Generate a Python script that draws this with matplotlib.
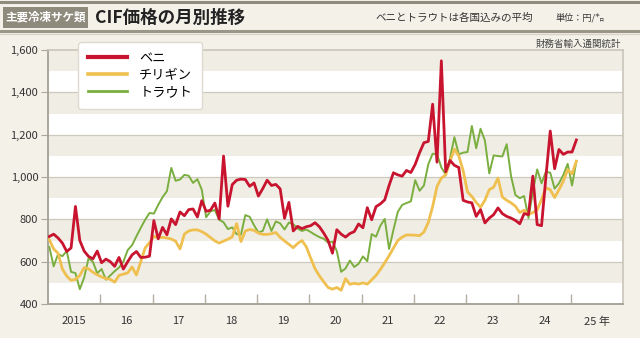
import matplotlib
matplotlib.use("Agg")
import matplotlib.pyplot as plt
from matplotlib.patches import Rectangle
from matplotlib.lines import Line2D
import numpy as np

plt.rcParams['font.family'] = ['Noto Sans CJK JP', 'DejaVu Sans']

start_year = 2015
beni = [719, 730, 712, 688, 648, 665, 861, 700, 650, 625, 613, 650,
        595, 612, 600, 578, 620, 565, 600, 632, 648, 620, 621, 626,
        794, 708, 762, 727, 802, 775, 835, 817, 846, 849, 811, 888,
        838, 843, 877, 802, 1099, 862, 964, 985, 990, 988, 956, 972,
        910, 945, 985, 960, 965, 944, 805, 880, 745, 767, 756, 765,
        770, 784, 765, 735, 700, 640, 751, 730, 716, 733, 742, 778,
        760, 855, 798, 860, 873, 892, 960, 1020, 1010, 1004, 1031, 1021,
        1060, 1115, 1162, 1168, 1344, 1070, 1549, 1025, 1078, 1055, 1045, 890,
        882, 878, 814, 846, 783, 806, 822, 854, 827, 814, 806, 795,
        779, 827, 822, 1004, 775, 770, 1000, 1217, 1039, 1130, 1107, 1118,
        1118, 1175]
chirigin = [704, 660, 640, 565, 532, 512, 516, 535, 572, 566, 550, 538,
            528, 520, 517, 503, 535, 541, 547, 575, 537, 600, 665, 690,
            720, 713, 715, 712, 707, 697, 660, 730, 745, 750, 750, 742,
            730, 714, 698, 688, 697, 706, 717, 780, 695, 745, 752, 748,
            735, 729, 729, 732, 738, 715, 698, 682, 666, 686, 700, 670,
            617, 567, 533, 505, 478, 470, 478, 465, 520, 493, 498, 494,
            500, 494, 514, 535, 563, 595, 628, 664, 700, 716, 726, 726,
            725, 723, 740, 785, 860, 955, 995, 1010, 1075, 1132, 1100, 1030,
            930, 908, 880, 857, 890, 940, 952, 995, 905, 890, 878, 862,
            832, 843, 823, 832, 845, 893, 949, 940, 903, 940, 980, 1035,
            1015, 1075]
trout = [670, 578, 635, 626, 650, 552, 546, 470, 525, 615, 600, 545,
         565, 515, 535, 555, 572, 600, 655, 678, 720, 760, 798, 830,
         827, 868, 905, 933, 1043, 982, 988, 1010, 1006, 972, 990, 940,
         810, 838, 844, 798, 786, 754, 762, 730, 728, 820, 812, 772,
         738, 745, 800, 745, 790, 781, 752, 785, 777, 756, 745, 752,
         740, 727, 716, 708, 690, 695, 650, 552, 568, 605, 575, 590,
         625, 602, 730, 718, 770, 802, 660, 750, 835, 868, 877, 885,
         985, 935, 960, 1060, 1110, 1108, 1045, 1012, 1090, 1188, 1107, 1115,
         1118, 1241, 1136, 1228, 1172, 1017, 1102, 1099, 1097, 1155, 1004, 915,
         900, 910, 806, 930, 1036, 970, 1025, 1020, 945, 970, 1010, 1062,
         960, 1075]

series_names = ['ベニ', 'チリギン', 'トラウト']
year_labels = ['2015', '16', '17', '18', '19', '20', '21', '22', '23', '24', '25 年']
y_ticks = [400, 600, 800, 1000, 1200, 1400, 1600]

n = len(beni)
x = start_year + (np.arange(n) + 0.3) / 12.0

W, H = 640, 338
fig = plt.figure(figsize=(W / 100, H / 100), dpi=100)
fig.patch.set_facecolor('#f4f1e9')

# header
fig.add_artist(Line2D([0, 1], [1 - 1.5 / H, 1 - 1.5 / H], color='#8f8b7d', lw=2.2, transform=fig.transFigure))
fig.add_artist(Line2D([0, 1], [1 - 31 / H, 1 - 31 / H], color='#9a9688', lw=2.2, transform=fig.transFigure))
fig.add_artist(Line2D([0, 1], [1 - 34 / H, 1 - 34 / H], color='#d8d4c8', lw=1.0, transform=fig.transFigure))
fig.add_artist(Rectangle((3 / W, 1 - 28 / H), 85 / W, 21 / H, transform=fig.transFigure,
                         facecolor='#8e8a7c', edgecolor='none'))
fig.text(45.5 / W, 1 - 17.5 / H, '主要冷凍サケ類', color='white', fontsize=8.3, fontweight='bold',
         ha='center', va='center')
fig.text(95 / W, 1 - 17.5 / H, 'CIF価格の月別推移', color='#222222', fontsize=12.6, fontweight='bold',
         ha='left', va='center')
fig.text(375 / W, 1 - 17.5 / H, 'ベニとトラウトは各国込みの平均', color='#333333', fontsize=7.6,
         ha='left', va='center')
fig.text(555 / W, 1 - 17.5 / H, '単位：円/㌔', color='#333333', fontsize=6.6,
         ha='left', va='center')
fig.text(621 / W, 1 - 44 / H, '財務省輸入通関統計', color='#444444', fontsize=6.8,
         ha='right', va='center')

ax = fig.add_axes([48 / W, 1 - 304 / H, 575 / W, 254 / H])
ax.set_facecolor('white')
for lo in range(400, 1600, 100):
    col = 'white' if (lo // 100) % 2 == 0 else '#f0ede5'
    ax.axhspan(lo, lo + 100, color=col, lw=0, zorder=0)
for g in y_ticks[1:-1]:
    ax.axhline(g, color='#cdc9bd', lw=0.9, zorder=1)

ax.plot(x, trout, color='#7aae3f', lw=1.4, zorder=3, label=series_names[2])
ax.plot(x, chirigin, color='#efc04f', lw=2.0, zorder=4, label=series_names[1])
ax.plot(x, beni, color='#c8142f', lw=2.0, zorder=5, label=series_names[0])

ax.set_xlim(2015, 2026)
ax.set_ylim(400, 1600)
ax.set_yticks(y_ticks)
ax.set_yticklabels([f'{v:,}' for v in y_ticks])
ax.tick_params(axis='y', length=5, color='#aaa69a', labelsize=8, labelcolor='#333333', pad=2)

ax.set_xticks(np.arange(2016, 2026), minor=False)
ax.set_xticklabels([])
ax.set_xticks(np.arange(2015, 2026) + 0.5, minor=True)
ax.set_xticklabels(year_labels, minor=True)
ax.tick_params(axis='x', which='major', direction='in', length=7, color='#b3afa3', width=1)
ax.tick_params(axis='x', which='minor', length=0, labelsize=8, labelcolor='#333333', pad=9)

for s in ['left', 'bottom']:
    ax.spines[s].set_color('#a9a599')
    ax.spines[s].set_linewidth(1.4)
for s in ['top', 'right']:
    ax.spines[s].set_color('#c9c5b9')
    ax.spines[s].set_linewidth(1.2)

handles = [Line2D([], [], color='#c8142f', lw=3.0),
           Line2D([], [], color='#efc04f', lw=2.6),
           Line2D([], [], color='#7aae3f', lw=2.0)]
leg = fig.legend(handles, series_names, loc='upper left', bbox_to_anchor=(78 / W, 1 - 42 / H),
                 fontsize=9.5, frameon=True, fancybox=True, handlelength=3.0, handletextpad=0.9,
                 labelspacing=0.3, borderpad=0.75, borderaxespad=0)
leg.get_frame().set_facecolor('white')
leg.get_frame().set_edgecolor('#dedad0')
leg.get_frame().set_alpha(1)
leg.set_zorder(10)

fig.savefig('out.png', dpi=100, facecolor=fig.get_facecolor())
